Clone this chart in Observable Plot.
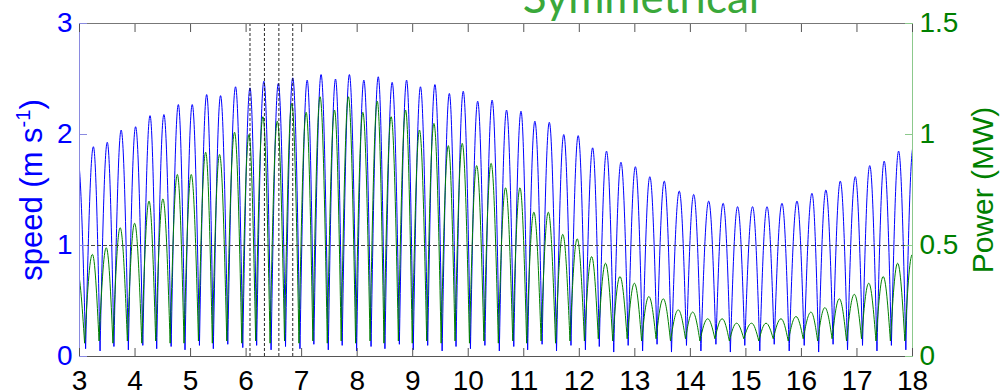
<!DOCTYPE html>
<html>
<head>
<meta charset="utf-8">
<script src="https://cdn.jsdelivr.net/npm/d3@7"></script>
<script src="https://cdn.jsdelivr.net/npm/@observablehq/plot@0.6"></script>
<style>
  html, body { margin: 0; padding: 0; background: white; }
  #wrap { position: relative; width: 1000px; height: 390px; overflow: hidden; background: white; }
  #chart { position: absolute; left: 0; top: 0; }
  .lab { position: absolute; white-space: nowrap; text-align: center; font-family: "Liberation Sans", Arial, sans-serif; }
  #title { position: absolute; left: 641px; top: -26px; transform: translateX(-50%); font-family: Lato, "Open Sans", sans-serif; font-size: 44px; line-height: 44px; color: #3aa83a; white-space: nowrap; }
  #ylab { width: 300px; left: -118px; top: 172px; height: 36px; line-height: 36px; font-size: 31px; color: #0000ff; transform: rotate(-90deg); }
  #ylab sup { font-size: 20px; vertical-align: 0; position: relative; top: -12px; }
  #y2lab { width: 300px; left: 833px; top: 172px; height: 36px; line-height: 36px; font-size: 30px; color: #008000; transform: rotate(-90deg); }
</style>
</head>
<body>
<div id="wrap">
  <div id="chart"></div>
  <div id="title">Symmetrical</div>
  <div id="ylab" class="lab">speed (m s<sup>-1</sup>)</div>
  <div id="y2lab" class="lab">Power (MW)</div>
</div>
<script>
// ---- data ----
const xTicks = [3, 4, 5, 6, 7, 8, 9, 10, 11, 12, 13, 14, 15, 16, 17, 18];
const speedTicks = [0, 1, 2, 3];
const powerTicks = [0, 0.5, 1, 1.5];
const refSpeed = [1];
const markerTimes = [6.07, 6.33, 6.59, 6.84];

// times (days) of the flow peaks
const peakTime = [2.97, 3.25, 3.50, 3.75, 4.01, 4.27, 4.52, 4.78, 5.03, 5.29, 5.54, 5.81, 6.07, 6.32, 6.58, 6.84,
  7.10, 7.35, 7.61, 7.86, 8.12, 8.38, 8.63, 8.89, 9.14, 9.40, 9.66, 9.91, 10.17, 10.43, 10.69, 10.95,
  11.20, 11.46, 11.72, 11.98, 12.24, 12.49, 12.75, 13.01, 13.27, 13.53, 13.80, 14.06, 14.33, 14.59,
  14.85, 15.12, 15.38, 15.65, 15.92, 16.19, 16.44, 16.70, 16.97, 17.23, 17.49, 17.75, 18.01];
// peak speed (m/s)
const peakSpeed = [1.80, 1.89, 1.93, 2.04, 2.07, 2.17, 2.18, 2.27, 2.27, 2.36, 2.35, 2.43, 2.42, 2.48, 2.46, 2.51,
  2.49, 2.54, 2.50, 2.54, 2.49, 2.52, 2.47, 2.49, 2.43, 2.45, 2.37, 2.39, 2.30, 2.31, 2.22, 2.21,
  2.12, 2.11, 2.00, 1.99, 1.88, 1.85, 1.75, 1.71, 1.62, 1.58, 1.49, 1.46, 1.40, 1.38,
  1.35, 1.35, 1.35, 1.38, 1.40, 1.47, 1.50, 1.58, 1.62, 1.72, 1.76, 1.85, 1.90];
// peak power (MW)
const peakPower = [0.40, 0.46, 0.49, 0.58, 0.60, 0.70, 0.71, 0.82, 0.82, 0.92, 0.91, 1.01, 1.00, 1.08, 1.06, 1.14,
  1.10, 1.17, 1.11, 1.17, 1.10, 1.15, 1.08, 1.11, 1.02, 1.05, 0.95, 0.96, 0.86, 0.87, 0.76, 0.76,
  0.65, 0.65, 0.55, 0.53, 0.45, 0.42, 0.36, 0.33, 0.27, 0.26, 0.21, 0.20, 0.17, 0.17,
  0.15, 0.15, 0.15, 0.17, 0.18, 0.20, 0.22, 0.26, 0.28, 0.33, 0.36, 0.42, 0.46];
// times of slack water (troughs)
const troughTime = [3.11, 3.37, 3.62, 3.88, 4.14, 4.39, 4.65, 4.90, 5.16, 5.41, 5.67, 5.94, 6.19, 6.45, 6.71, 6.97,
  7.22, 7.48, 7.73, 7.99, 8.25, 8.50, 8.76, 9.01, 9.27, 9.53, 9.78, 10.04, 10.30, 10.56, 10.82, 11.07,
  11.33, 11.59, 11.85, 12.11, 12.36, 12.62, 12.88, 13.14, 13.40, 13.66, 13.93, 14.19, 14.46, 14.72,
  14.98, 15.25, 15.51, 15.78, 16.05, 16.31, 16.57, 16.83, 17.10, 17.36, 17.62, 17.88];
const troughSpeed = [0.07, 0.05, 0.09, 0.06, 0.10, 0.07, 0.09, 0.06, 0.10, 0.07, 0.11, 0.08, 0.10, 0.06, 0.09, 0.07,
  0.11, 0.06, 0.10, 0.05, 0.09, 0.07, 0.11, 0.06, 0.10, 0.05, 0.09, 0.07, 0.10, 0.05, 0.09, 0.06,
  0.11, 0.05, 0.10, 0.06, 0.09, 0.04, 0.10, 0.05, 0.11, 0.04, 0.10, 0.05, 0.11, 0.04,
  0.10, 0.05, 0.11, 0.05, 0.10, 0.04, 0.11, 0.06, 0.10, 0.05, 0.10, 0.06];
const troughPower = [0.06, 0.07, 0.06, 0.07, 0.06, 0.07, 0.06, 0.06, 0.07, 0.06, 0.07, 0.06, 0.07, 0.06, 0.07, 0.06,
  0.07, 0.06, 0.07, 0.06, 0.07, 0.06, 0.07, 0.06, 0.07, 0.06, 0.07, 0.06, 0.07, 0.06, 0.07, 0.06,
  0.07, 0.06, 0.07, 0.07, 0.08, 0.07, 0.08, 0.07, 0.08, 0.07, 0.08, 0.07, 0.08, 0.07,
  0.08, 0.07, 0.08, 0.07, 0.08, 0.07, 0.08, 0.07, 0.08, 0.07, 0.07, 0.07];

// ---- build series ----
function interleave(pt, pv, tt, tv) {
  const rows = [];
  for (let i = 0; i < pt.length && i < pv.length; i++) {
    rows.push({t: pt[i], v: pv[i]});
    if (i < tt.length && i < tv.length) rows.push({t: tt[i], v: tv[i]});
  }
  return rows;
}
const speedSeries = interleave(peakTime, peakSpeed, troughTime, troughSpeed);
const powerSeries = interleave(peakTime, peakPower, troughTime, troughPower);
const ratio = speedTicks[speedTicks.length - 1] / powerTicks[powerTicks.length - 1];

// arch-shaped curve: rounded at maxima, cusped at minima (like |sin|)
function archCurve(context) {
  let pts = [];
  return {
    areaStart() {}, areaEnd() {},
    lineStart() { pts = []; },
    point(x, y) { pts.push([+x, +y]); },
    lineEnd() {
      if (!pts.length) return;
      context.moveTo(pts[0][0], pts[0][1]);
      for (let i = 1; i < pts.length; i++) {
        const [x0, y0] = pts[i - 1], [x1, y1] = pts[i];
        const dx = x1 - x0, dy = y1 - y0;
        if (y1 < y0) {
          context.bezierCurveTo(x0 + dx * 0.33, y0 + dy * 0.52, x1 - dx * 0.36, y1, x1, y1);
        } else {
          context.bezierCurveTo(x0 + dx * 0.36, y0, x1 - dx * 0.33, y1 - dy * 0.52, x1, y1);
        }
      }
    }
  };
}

const blue = "#0000ff", green = "#008000";

const chart = Plot.plot({
  width: 1000,
  height: 390,
  marginLeft: 79,
  marginRight: 88,
  marginTop: 23,
  marginBottom: 34,
  x: {domain: [xTicks[0], xTicks[xTicks.length - 1]]},
  y: {domain: [speedTicks[0], speedTicks[speedTicks.length - 1]]},
  style: {fontFamily: "'Liberation Sans', Arial, sans-serif", background: "white"},
  marks: [
    Plot.line(speedSeries, {x: "t", y: "v", stroke: blue, strokeWidth: 1, curve: archCurve, clip: true}),
    Plot.line(powerSeries, {x: "t", y: d => d.v * ratio, stroke: green, strokeWidth: 1, curve: archCurve, clip: true, dx: -1}),
    Plot.ruleY(refSpeed, {stroke: "#444", strokeWidth: 1, strokeDasharray: "4,2"}),
    Plot.ruleX(markerTimes, {stroke: "#111", strokeWidth: 0.9, strokeDasharray: "3,2"}),
    Plot.frame({anchor: "top", stroke: "#777"}),
    Plot.frame({anchor: "bottom", stroke: "#555"}),
    Plot.frame({anchor: "left", stroke: "#8a8ae0"}),
    Plot.frame({anchor: "right", stroke: "#8cc98c"}),
    Plot.axisX({anchor: "bottom", ticks: xTicks, tickSize: -8, stroke: "#555", fill: "none", label: null}),
    Plot.axisX({anchor: "top", ticks: xTicks, tickSize: -8, stroke: "#555", fill: "none", label: null}),
    Plot.axisX({anchor: "bottom", ticks: xTicks, tickFormat: d => String(d), tickSize: 0, tickPadding: 14, fill: "black", fontSize: 28, label: null}),
    Plot.axisY({anchor: "left", ticks: speedTicks, tickSize: -8, stroke: "#8a8ae0", fill: "none", label: null}),
    Plot.axisY({anchor: "left", ticks: speedTicks, tickFormat: d => String(d), tickSize: 0, tickPadding: 7, fill: blue, fontSize: 28, label: null}),
    Plot.axisY({anchor: "right", ticks: powerTicks.map(p => p * ratio), tickSize: -8, stroke: "#8cc98c", fill: "none", label: null}),
    Plot.axisY({anchor: "right", ticks: powerTicks.map(p => p * ratio), tickFormat: d => String(d / ratio), tickSize: 0, tickPadding: 7, fill: green, fontSize: 28, label: null})
  ]
});
document.getElementById("chart").appendChild(chart);
</script>
</body>
</html>
